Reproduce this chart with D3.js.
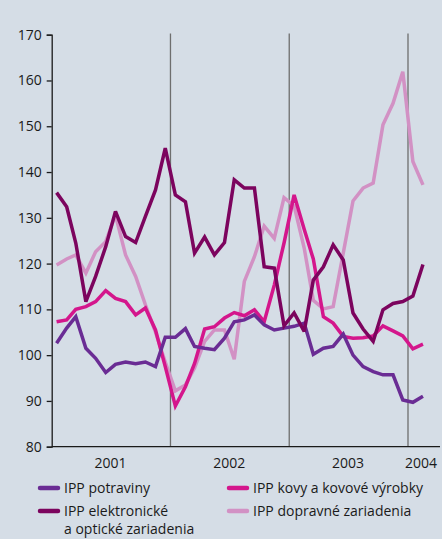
<!DOCTYPE html>
<html>
<head>
<meta charset="utf-8">
<script src="https://cdn.jsdelivr.net/npm/d3@7"></script>
<style>
  body { margin: 0; background: #d5dde6; }
  svg { display: block; font-family: 'Open Sans', sans-serif; }
</style>
</head>
<body>
<div id="chart"></div>
<script>
// monthly index values, Jan 2001 - Feb 2004
const potraviny = [102.6, 105.9, 108.4, 101.5, 99.3, 96.2, 98.0, 98.5, 98.1, 98.5, 97.5, 103.9,
  103.9, 105.8, 101.9, 101.5, 101.2, 103.7, 107.3, 107.7, 108.8, 106.6, 105.5, 105.9,
  106.3, 107.0, 100.2, 101.5, 101.9, 104.6, 100.0, 97.5, 96.4, 95.7, 95.7, 90.2,
  89.7, 91.0];
const kovy = [107.3, 107.7, 110.0, 110.6, 111.7, 114.1, 112.4, 111.7, 108.8, 110.3, 105.5, 97.5,
  88.9, 93.1, 98.2, 105.7, 106.2, 108.1, 109.3, 108.6, 109.9, 107.3, 115.3, 124.5,
  135.0, 127.5, 121.0, 108.4, 107.0, 104.1, 103.7, 103.8, 104.2, 106.4, 105.3, 104.2,
  101.4, 102.4];
const elektro = [135.5, 132.4, 124.5, 111.7, 117.2, 123.7, 131.4, 125.9, 124.6, 130.3, 136.1, 145.2,
  135.0, 133.5, 122.3, 125.8, 121.9, 124.6, 138.3, 136.5, 136.5, 119.3, 119.0, 106.4,
  109.2, 105.2, 116.4, 119.3, 124.1, 120.8, 109.2, 105.7, 103.0, 109.9, 111.3, 111.7,
  112.9, 119.8];
const dopravne = [119.7, 121.0, 121.9, 117.9, 122.6, 124.8, 130.6, 121.9, 117.2, 111.0, 105.0, 98.5,
  92.2, 93.5, 97.2, 103.0, 105.5, 105.5, 99.1, 116.1, 121.5, 128.2, 125.5, 134.4,
  132.6, 123.4, 112.0, 110.1, 110.6, 122.3, 133.7, 136.5, 137.6, 150.3, 155.0, 161.9,
  142.3, 137.2];

const yearLabels = ['2001', '2002', '2003', '2004'];
const yTicks = [80, 90, 100, 110, 120, 130, 140, 150, 160, 170];

const series = [
  { name: 'IPP potraviny', values: potraviny, color: '#6a2c94' },
  { name: 'IPP kovy a kovové výrobky', values: kovy, color: '#d4168c' },
  { name: 'IPP elektronické|a optické zariadenia', values: elektro, color: '#7c045e' },
  { name: 'IPP dopravné zariadenia', values: dopravne, color: '#d291c4' }
];
// draw order: lightest at the bottom
const drawOrder = [3, 1, 0, 2];

const width = 442;
const height = 539;

const svg = d3.select('#chart')
  .append('svg')
  .attr('width', width)
  .attr('height', height);

const x = d3.scaleTime()
  .domain([new Date(2001, 0, 1), new Date(2004, 0, 1)])
  .range([51.7, 408]);

const y = d3.scaleLinear()
  .domain([80, 170])
  .range([446.7, 34.7]);

const monthDate = i => new Date(2001, i, 16);

// year separators
svg.append('g')
  .selectAll('line')
  .data([2002, 2003, 2004])
  .enter()
  .append('line')
  .attr('x1', d => x(new Date(d, 0, 1)))
  .attr('x2', d => x(new Date(d, 0, 1)))
  .attr('y1', 33.5)
  .attr('y2', y(80))
  .attr('stroke', '#6e6e6e')
  .attr('stroke-width', 1.3);

// x axis baseline
svg.append('line')
  .attr('x1', x.range()[0])
  .attr('x2', 440)
  .attr('y1', y(80))
  .attr('y2', y(80))
  .attr('stroke', '#1a1a1a')
  .attr('stroke-width', 1.3);

// y axis
const yAxis = d3.axisLeft(y)
  .tickValues(yTicks)
  .tickSize(5)
  .tickPadding(5);

svg.append('g')
  .attr('transform', `translate(${x.range()[0]}, 0)`)
  .call(yAxis)
  .call(g => g.select('.domain').attr('stroke', '#1a1a1a').attr('stroke-width', 1.3))
  .call(g => g.selectAll('.tick line').attr('stroke', '#1a1a1a').attr('stroke-width', 1.3))
  .call(g => g.selectAll('.tick text')
    .attr('fill', '#1a1a1a')
    .style('font-size', '14px')
    .style('font-family', "'Open Sans', sans-serif"));

// year labels
const labelPos = [new Date(2001, 6, 1), new Date(2002, 6, 1), new Date(2003, 6, 1), new Date(2004, 1, 10)];
svg.append('g')
  .selectAll('text')
  .data(yearLabels)
  .enter()
  .append('text')
  .attr('x', (d, i) => x(labelPos[i]))
  .attr('y', 468)
  .attr('text-anchor', 'middle')
  .attr('fill', '#1a1a1a')
  .style('font-size', '14px')
  .text(d => d);

// lines
const line = d3.line()
  .x((d, i) => x(monthDate(i)))
  .y(d => y(d));

svg.append('g')
  .selectAll('path')
  .data(drawOrder.map(k => series[k]))
  .enter()
  .append('path')
  .attr('d', d => line(d.values))
  .attr('fill', 'none')
  .attr('stroke', d => d.color)
  .attr('stroke-width', 3.5)
  .attr('stroke-linejoin', 'miter')
  .attr('stroke-miterlimit', 3);

// legend
const legendPos = [[39, 488], [228, 488], [39, 511], [228, 511]];
const legend = svg.append('g')
  .selectAll('g')
  .data(series)
  .enter()
  .append('g')
  .attr('transform', (d, i) => `translate(${legendPos[i][0]}, ${legendPos[i][1]})`);

legend.append('line')
  .attr('x1', 1)
  .attr('x2', 19)
  .attr('y1', 0)
  .attr('y2', 0)
  .attr('stroke', d => d.color)
  .attr('stroke-width', 4.5)
  .attr('stroke-linecap', 'round');

legend.append('text')
  .attr('x', 25)
  .attr('y', 5)
  .attr('fill', '#1a1a1a')
  .style('font-size', '14px')
  .selectAll('tspan')
  .data(d => d.name.split('|'))
  .enter()
  .append('tspan')
  .attr('x', 25)
  .attr('dy', (d, i) => i === 0 ? 0 : 18)
  .text(d => d);
</script>
</body>
</html>
